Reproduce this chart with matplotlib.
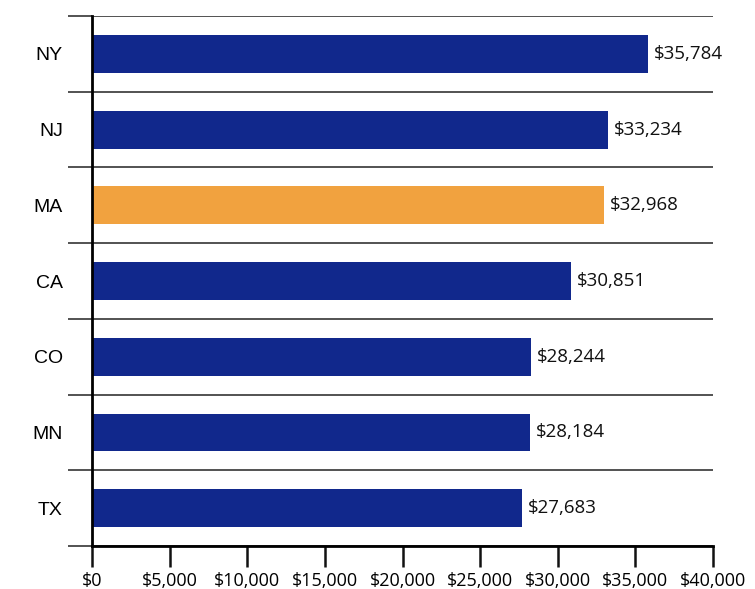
import matplotlib.pyplot as plt
from matplotlib.ticker import FixedLocator

states = ['NY', 'NJ', 'MA', 'CA', 'CO', 'MN', 'TX']
incomes = [35784, 33234, 32968, 30851, 28244, 28184, 27683]
highlight = 'MA'
xticks = [0, 5000, 10000, 15000, 20000, 25000, 30000, 35000, 40000]

navy = '#11288c'
orange = '#f1a23f'

fig = plt.figure(figsize=(7.55, 5.89), dpi=100)
ax = fig.add_axes([0.1219, 0.073, 0.8225, 0.8997])

ypos = list(range(len(states)))[::-1]
colors = [orange if s == highlight else navy for s in states]
ax.barh(ypos, incomes, height=0.5, color=colors, zorder=3)

for y, v in zip(ypos, incomes):
    ax.text(v + 380, y, '${:,}'.format(v), va='center', ha='left',
            fontsize=13.5, family='Open Sans', color='#111111')

ax.set_xlim(0, 40000)
ax.set_ylim(-0.5, len(states) - 0.5)

ax.set_yticks(ypos)
ax.set_yticklabels(states, family='Liberation Sans', fontsize=14)
ax.yaxis.set_minor_locator(FixedLocator([i - 0.5 for i in range(len(states) + 1)]))
ax.tick_params(axis='y', which='major', length=0, pad=21)
ax.tick_params(axis='y', which='minor', length=17, width=1.3, color='#444444')
ax.grid(axis='y', which='minor', color='#444444', linewidth=1.3, zorder=1)

ax.set_xticks(xticks)
ax.set_xticklabels(['${:,}'.format(t) for t in xticks], family='Open Sans', fontsize=13)
ax.tick_params(axis='x', length=15, width=1.8, color='#111111', pad=4)

for side in ['top', 'right']:
    ax.spines[side].set_visible(False)
ax.spines['left'].set_linewidth(2)
ax.spines['bottom'].set_linewidth(2)
ax.spines['left'].set_zorder(4)

plt.savefig('out.png', dpi=100)
